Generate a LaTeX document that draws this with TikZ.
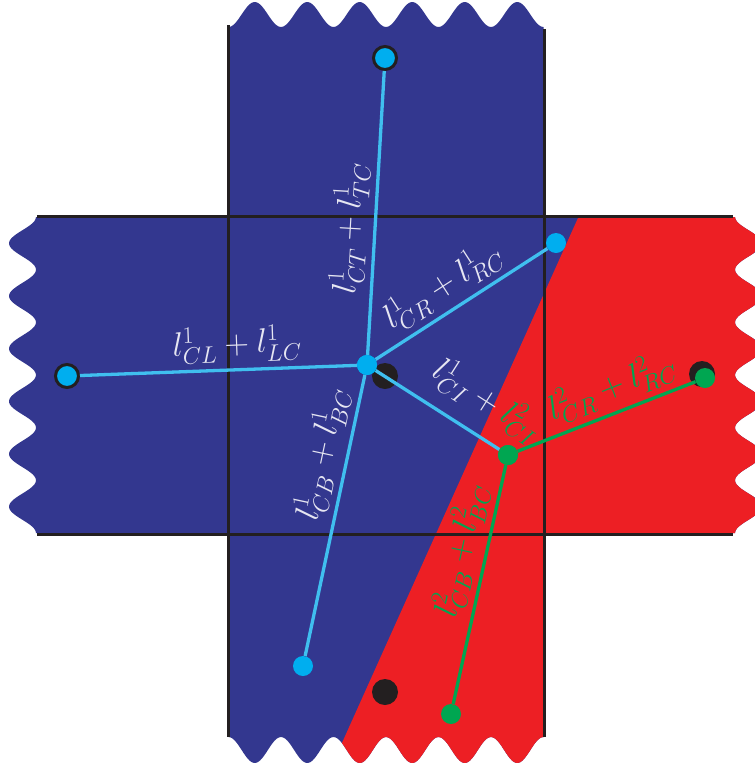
\RequirePackage{fix-cm}
\documentclass[tikz,border=0pt]{standalone}
\usepackage{xcolor}
\usepackage{tikz}
\usetikzlibrary{positioning}
\definecolor{Navy}{HTML}{33378F}
\definecolor{Scarlet}{HTML}{ED1F24}
\definecolor{Sky}{HTML}{00AEEF}
\definecolor{SkyLine}{HTML}{40BFEF}
\definecolor{Leaf}{HTML}{00A651}
\definecolor{Ink}{HTML}{231F20}
\definecolor{Chalk}{HTML}{E6E6F2}

\begin{document}
\begin{tikzpicture}[x=1pt,y=-1pt,
  grid/.style={Ink,line width=3pt},
  skydot/.style={circle,fill=Sky,inner sep=0pt,minimum size=20pt},
  ringdot/.style={skydot,draw=Ink,line width=3pt,minimum size=23pt},
  leafdot/.style={circle,fill=Leaf,inner sep=0pt,minimum size=20pt},
  inkdot/.style={circle,fill=Ink,inner sep=0pt,minimum size=26pt},
  skyline/.style={SkyLine,line width=3.3pt},
  leafline/.style={Leaf,line width=3.3pt},
  lab/.style={font=\fontsize{34}{40}\selectfont,inner sep=0pt,sloped,above=6pt}]
  \def\perx{52.5}
  \def\pery{52.667}
  \def\crosspath{(228.5,27)
    -- plot[domain=0:315,samples=151] ({228.5+\x},{14.5+12.5*cos(\x/\perx*360)})
    -- (543.5,217) -- (735,217)
    -- plot[domain=0:316,samples=151] ({748.5-13.5*cos(\x/\pery*360)},{217+\x})
    -- (543.5,533) -- (543.5,737)
    -- plot[domain=0:315,samples=151] ({543.5-\x},{750-13*cos(\x/\perx*360)})
    -- (228.5,533) -- (36,533)
    -- plot[domain=0:316,samples=151] ({22.5+13.5*cos(\x/\pery*360)},{533-\x})
    -- (228.5,217) -- cycle}
  \useasboundingbox (0,0) rectangle (755,769);
  \clip (0,0) rectangle (755,769);

  % the two regions
  \fill[Navy] \crosspath;
  \begin{scope}
    \clip \crosspath;
    \fill[Scarlet] (680.5,-10) -- (325.3,780) -- (780,780) -- (780,-10) -- cycle;
  \end{scope}

  % cell borders
  \draw[grid] (228,25) -- (228,737);
  \draw[grid] (544,29) -- (544,737);
  \draw[grid] (37,216) -- (733,216);
  \draw[grid] (37,534) -- (733,534);

  % cell centres
  \node[inkdot] (k1) at (385,376) {};
  \node[inkdot] (k2) at (385,692) {};
  \node[inkdot] (k3) at (702,374) {};

  % face points
  \node[skydot] (C) at (367,365) {};
  \node[ringdot] (T) at (385,58) {};
  \node[ringdot] (L) at (67,376) {};
  \node[skydot] (R) at (556,243) {};
  \node[skydot] (B) at (303,666) {};
  \node[leafdot] (G) at (508,455) {};
  \node[leafdot] (GR) at (705,378) {};
  \node[leafdot] (GB) at (451,714) {};

  \draw[skyline] (C) -- node[lab,text=Chalk,pos=.44] (labT) {$l^1_{CT}+l^1_{TC}$} (T);
  \draw[skyline] (C) -- node[lab,text=Chalk,pos=.47] (labR) {$l^1_{CR}+l^1_{RC}$} (R);
  \draw[skyline] (L) -- node[lab,text=Chalk,pos=.57] (labL) {$l^1_{CL}+l^1_{LC}$} (C);
  \draw[skyline] (B) -- node[lab,text=Chalk,pos=.7] (labB) {$l^1_{CB}+l^1_{BC}$} (C);
  \draw[skyline] (C) -- node[lab,text=Chalk,pos=.75,above=15pt] (labI) {$l^1_{CI}+{\color{Leaf}l^2_{CI}}$} (G);
  \draw[leafline] (G) -- node[lab,text=Leaf,pos=.58] (labGR) {$l^2_{CR}+l^2_{RC}$} (GR);
  \draw[leafline] (GB) -- node[lab,text=Leaf,pos=.62] (labGB) {$l^2_{CB}+l^2_{BC}$} (G);

  % redraw the points over the lines
  \node[skydot] at (C) {};
  \node[leafdot] at (G) {};
\end{tikzpicture}
\end{document}
